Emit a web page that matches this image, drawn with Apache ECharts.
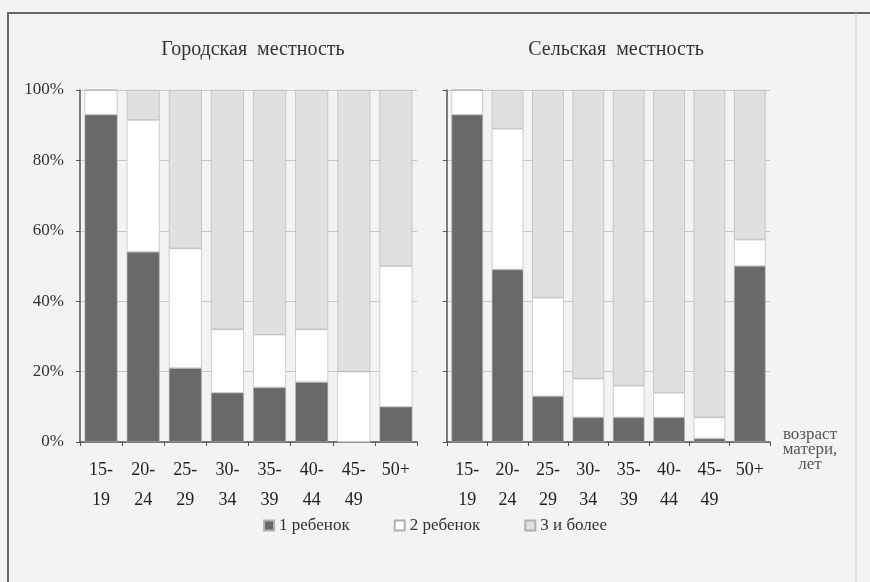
<!DOCTYPE html>
<html>
<head>
<meta charset="utf-8">
<script src="https://cdn.jsdelivr.net/npm/echarts@6/dist/echarts.min.js"></script>
<style>
  html, body { margin: 0; padding: 0; background: #f3f3f3; }
  #chart { width: 870px; height: 582px; }
</style>
</head>
<body>
<div id="chart"></div>
<script>
// возрастные группы матери
const ageGroups = ['15-\n19', '20-\n24', '25-\n29', '30-\n34', '35-\n39', '40-\n44', '45-\n49', '50+'];
const seriesNames = ['1 ребенок', '2 ребенок', '3 и более'];
const yTicks = [0, 20, 40, 60, 80, 100];

// Городская местность, %
const urbanFirst = [93, 54, 21, 14, 15.5, 17, 0, 10];
const urbanSecond = [7, 37.5, 34, 18, 15, 15, 20, 40];
const urbanThird = [0, 8.5, 45, 68, 69.5, 68, 80, 50];

// Сельская местность, %
const ruralFirst = [93, 49, 13, 7, 7, 7, 1, 50];
const ruralSecond = [7, 40, 28, 11, 9, 7, 6, 7.5];
const ruralThird = [0, 11, 59, 82, 84, 86, 93, 42.5];

const colors = ['#696969', '#ffffff', '#e0e0e0'];
const font = '"Liberation Serif", "DejaVu Serif", serif';

const chart = echarts.init(document.getElementById('chart'));

const xAxisBase = idx => ({
  type: 'category',
  gridIndex: idx,
  data: ageGroups,
  axisLine: { lineStyle: { color: '#555', width: 1.5 } },
  axisTick: { show: true, length: 4, lineStyle: { color: '#555' } },
  axisLabel: { color: '#222', fontFamily: font, fontSize: 18, lineHeight: 30, margin: 13, interval: 0 }
});

const yAxisBase = (idx, showLabels) => ({
  type: 'value',
  gridIndex: idx,
  min: 0,
  max: 100,
  interval: 20,
  axisLine: { show: true, lineStyle: { color: '#555', width: 1.5 } },
  axisTick: { show: true, length: 4, lineStyle: { color: '#555' } },
  axisLabel: {
    show: showLabels,
    color: '#333',
    fontFamily: font,
    fontSize: 17,
    margin: 16,
    formatter: v => yTicks.includes(v) ? v + '%' : ''
  },
  splitLine: { show: true, lineStyle: { color: '#c8c8c8', width: 1 } }
});

const makeBar = (name, data, idx, stack, color) => ({
  name,
  type: 'bar',
  stack,
  xAxisIndex: idx,
  yAxisIndex: idx,
  barCategoryGap: '22%',
  itemStyle: { color, borderColor: '#b0b0b0', borderWidth: 0.6 },
  data
});

chart.setOption({
  backgroundColor: '#f3f3f3',
  animation: false,
  textStyle: { fontFamily: font },
  title: [
    { text: 'Городская  местность', left: 248, top: 35, textAlign: 'center',
      textStyle: { fontFamily: font, fontSize: 20, fontWeight: 'normal', color: '#333' } },
    { text: 'Сельская  местность', left: 611, top: 35, textAlign: 'center',
      textStyle: { fontFamily: font, fontSize: 20, fontWeight: 'normal', color: '#333' } }
  ],
  legend: {
    data: seriesNames,
    left: 'center',
    top: 512,
    itemWidth: 10,
    itemHeight: 10,
    itemGap: 44,
    icon: 'rect',
    textStyle: { fontFamily: font, fontSize: 17, color: '#333' }
  },
  grid: [
    { left: 80, right: 453, top: 90, height: 352 },
    { left: 447, right: 100, top: 90, height: 352 }
  ],
  xAxis: [xAxisBase(0), xAxisBase(1)],
  yAxis: [yAxisBase(0, true), yAxisBase(1, false)],
  graphic: [
    { type: 'polyline', shape: { points: [[8, 582], [8, 13], [870, 13]] },
      style: { stroke: '#666', lineWidth: 2, fill: null } },
    { type: 'line', shape: { x1: 856, y1: 13, x2: 856, y2: 582 },
      style: { stroke: '#ccc', lineWidth: 1 } },
    { type: 'text', x: 810, y: 427,
      style: { text: 'возраст\nматери,\nлет', fontFamily: font, fontSize: 17, lineHeight: 15,
        fill: '#555', align: 'center' } }
  ],
  series: [
    makeBar(seriesNames[0], urbanFirst, 0, 'urban', colors[0]),
    makeBar(seriesNames[1], urbanSecond, 0, 'urban', colors[1]),
    makeBar(seriesNames[2], urbanThird, 0, 'urban', colors[2]),
    makeBar(seriesNames[0], ruralFirst, 1, 'rural', colors[0]),
    makeBar(seriesNames[1], ruralSecond, 1, 'rural', colors[1]),
    makeBar(seriesNames[2], ruralThird, 1, 'rural', colors[2])
  ]
});
</script>
</body>
</html>
